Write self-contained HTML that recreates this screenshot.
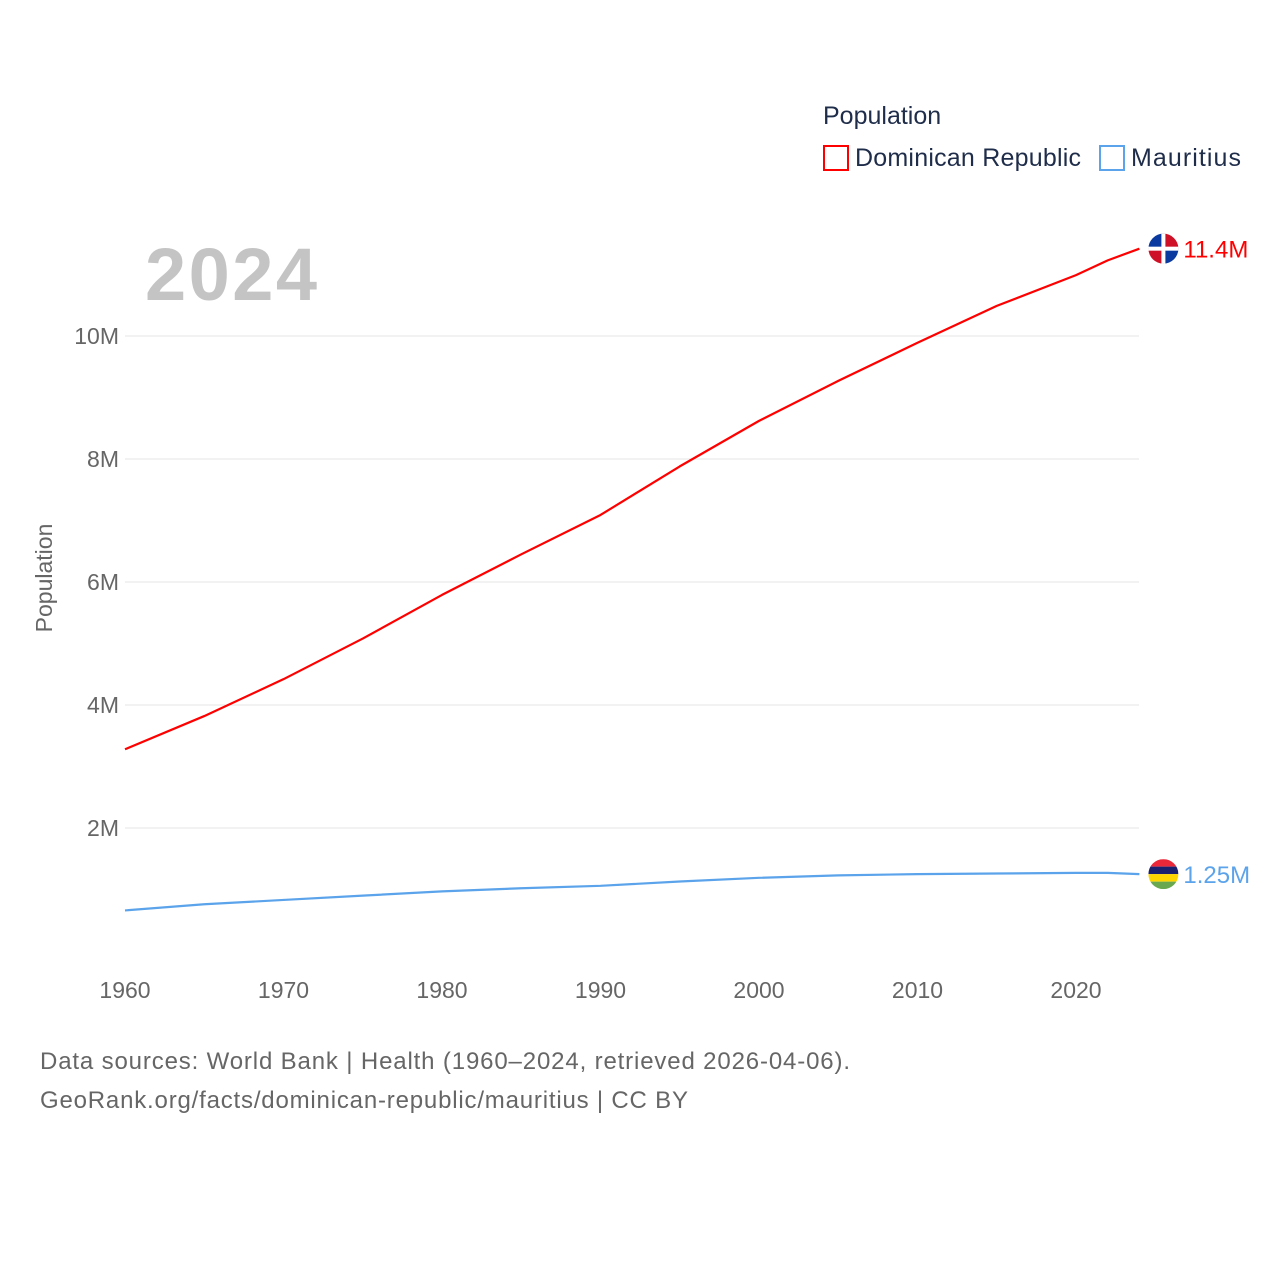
<!DOCTYPE html>
<html><head><meta charset="utf-8"><style>
body{margin:0;background:#fff;font-family:"Liberation Sans",sans-serif}
svg text{font-family:"Liberation Sans",sans-serif}
</style></head><body>
<svg width="1280" height="1280" viewBox="0 0 1280 1280" xmlns="http://www.w3.org/2000/svg">
<g id="grid"></g>
<text x="145" y="300" font-size="74" font-weight="bold" fill="#c4c4c4" textLength="172">2024</text>
<text x="52" y="578" font-size="23" fill="#666" transform="rotate(-90 52 578)" text-anchor="middle">Population</text>
<g id="xt"></g>
<g id="series"></g>
<g>
<text x="823" y="124" font-size="25" fill="#1f2d4a">Population</text>
<g><rect x="824" y="146" width="24" height="24" fill="none" stroke="#ff0000" stroke-width="2"/><text x="855" y="166" font-size="25" fill="#1f2d4a" textLength="226">Dominican Republic</text></g>
<g><rect x="1100" y="146" width="24" height="24" fill="none" stroke="#5ba3ea" stroke-width="2"/><text x="1131" y="166" font-size="25" fill="#1f2d4a" textLength="110">Mauritius</text></g>
</g>
<text x="40" y="1069" font-size="24" fill="#666" textLength="810">Data sources: World Bank | Health (1960–2024, retrieved 2026-04-06).</text>
<text x="40" y="1108" font-size="24" fill="#666" textLength="648">GeoRank.org/facts/dominican-republic/mauritius | CC BY</text>
</svg>
<script>
const years=[1960,1965,1970,1975,1980,1985,1990,1995,2000,2005,2010,2015,2020,2022,2024];
const domRep=[3.28,3.82,4.42,5.08,5.79,6.45,7.09,7.88,8.62,9.27,9.89,10.49,10.99,11.23,11.42];
const mauritius=[0.66,0.76,0.83,0.90,0.97,1.02,1.06,1.13,1.19,1.23,1.25,1.26,1.27,1.27,1.25];
const yTicks=[2,4,6,8,10];
const xTicks=[1960,1970,1980,1990,2000,2010,2020];
const X=y=>125+(y-1960)*15.85;
const Y=v=>951-v*61.5;
const NS='http://www.w3.org/2000/svg';
function mk(t,a,p){const e=document.createElementNS(NS,t);for(const k in a)e.setAttribute(k,a[k]);p.appendChild(e);return e;}
const grid=document.getElementById('grid');
yTicks.forEach(v=>{
 const l=mk('line',{x1:125,x2:1139,y1:Y(v),y2:Y(v),stroke:'#e6e6e6','stroke-width':1},grid);
 
 
 const t=mk('text',{x:119,y:Y(v)+8,'font-size':23,fill:'#666','text-anchor':'end'},grid);t.textContent=v+'M';
 
 
});
const xt=document.getElementById('xt');
xTicks.forEach(v=>{
 const t=mk('text',{x:X(v),y:998,'font-size':23,fill:'#666','text-anchor':'middle'},xt);t.textContent=v;
 
 
});
const s=document.getElementById('series');
function line(d,c,name,label){
 const p=mk('path',{d:'M'+years.map((y,i)=>X(y)+','+Y(d[i])).join('L'),fill:'none',stroke:c,'stroke-width':2.2,'stroke-linejoin':'round'},s);
 
 
 const ex=X(years[years.length-1])+24, ey=Y(d[d.length-1]);
 const f=mk('circle',{cx:ex,cy:ey,r:15,fill:'#fff'},s);
 
 
 const t=mk('text',{x:ex+20,y:ey+9,'font-size':24,fill:c},s);t.textContent=label;
 
 
 return [ex,ey];
}
let [a,b]=line(domRep,'#ff0000','dominican-republic-line','11.4M');
mk('path',{d:`M${a-15},${b}A15,15 0 0 1 ${a},${b-15}V${b}Z`,fill:'#0a3aa0'},s);
mk('path',{d:`M${a},${b-15}A15,15 0 0 1 ${a+15},${b}H${a}Z`,fill:'#ce1126'},s);
mk('path',{d:`M${a-15},${b}A15,15 0 0 0 ${a},${b+15}V${b}Z`,fill:'#ce1126'},s);
mk('path',{d:`M${a},${b+15}A15,15 0 0 0 ${a+15},${b}H${a}Z`,fill:'#0a3aa0'},s);
mk('rect',{x:a-15,y:b-2,width:30,height:4,fill:'#fff'},s);mk('rect',{x:a-2,y:b-15,width:4,height:30,fill:'#fff'},s);
[a,b]=line(mauritius,'#5ba3ea','mauritius-line','1.25M');
const cp=mk('clipPath',{id:'mc'},s);mk('circle',{cx:a,cy:b,r:15},cp);
const g=mk('g',{'clip-path':'url(#mc)'},s);
['#ea2839','#1a206d','#ffd500','#6aa84f'].forEach((c,i)=>mk('rect',{x:a-15,y:b-15+i*7.5,width:30,height:7.5,fill:c},g));
</script>
</body></html>
